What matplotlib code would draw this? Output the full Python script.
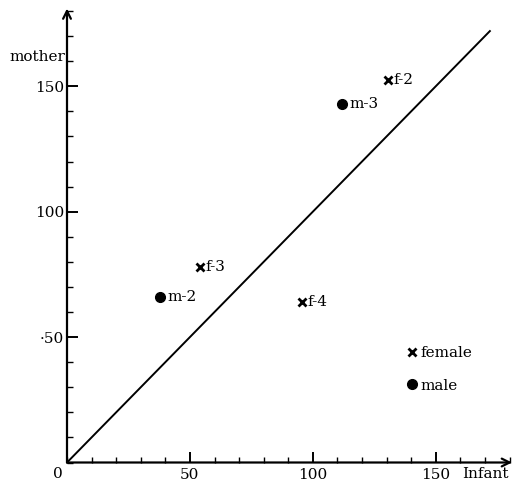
import matplotlib
matplotlib.use("Agg")
import matplotlib.pyplot as plt
from matplotlib.ticker import MultipleLocator

plt.rcParams['font.family'] = ['DejaVu Serif']

# data
female_names = ["f-2", "f-3", "f-4"]
female_infant = [130.5, 54, 95.5]
female_mother = [152.5, 78, 64]
male_names = ["m-3", "m-2"]
male_infant = [112, 38]
male_mother = [143, 66]
diag = [0, 172]
xticks = [50, 100, 150]
yticks = [50, 100, 150]
ytick_labels = ["·50", "100", "150"]

fig = plt.figure(figsize=(5.15, 4.88), dpi=100)
ax = fig.add_axes([67/515, 25.5/488, 445/515, 454/488])
ax.set_xlim(0, 181)
ax.set_ylim(0, 181)

for s in ax.spines.values():
    s.set_visible(False)

ax.annotate("", xy=(1.0, 0), xytext=(0, 0), xycoords='axes fraction',
            arrowprops=dict(arrowstyle='->', lw=1.6, color='black',
                            shrinkA=0, shrinkB=0, mutation_scale=14))
ax.annotate("", xy=(0, 1.0), xytext=(0, 0), xycoords='axes fraction',
            arrowprops=dict(arrowstyle='->', lw=1.6, color='black',
                            shrinkA=0, shrinkB=0, mutation_scale=14))

ax.plot(diag, diag, color='black', lw=1.4)

fem, = ax.plot(female_infant, female_mother, 'x', color='black', ms=5.5, mew=2,
               linestyle='none', label='female')
mal, = ax.plot(male_infant, male_mother, 'o', color='black', ms=7,
               linestyle='none', label='male')

fs = 11
for n, x, y in zip(female_names, female_infant, female_mother):
    ax.annotate(n, (x, y), xytext=(4, 0), textcoords='offset points',
                va='center', ha='left', fontsize=fs)
for n, x, y in zip(male_names, male_infant, male_mother):
    ax.annotate(n, (x, y), xytext=(5, 0), textcoords='offset points',
                va='center', ha='left', fontsize=fs)

ax.xaxis.set_major_locator(MultipleLocator(50))
ax.xaxis.set_minor_locator(MultipleLocator(10))
ax.yaxis.set_major_locator(MultipleLocator(50))
ax.yaxis.set_minor_locator(MultipleLocator(10))
ax.set_xticks(xticks)
ax.set_yticks(yticks)
ax.set_yticklabels(ytick_labels)
ax.tick_params(axis='both', which='major', direction='in', length=8, width=1.4,
               labelsize=fs, pad=4)
ax.tick_params(axis='both', which='minor', direction='in', length=4, width=1.0)
ax.tick_params(axis='y', which='major', pad=2)

ax.text(-0.01, -0.01, "0", transform=ax.transAxes, ha='right', va='top', fontsize=fs)
ax.text(-0.003, 161.5, "mother", transform=ax.get_yaxis_transform(), ha='right',
        va='center', fontsize=fs)
ax.text(170, -0.01, "Infant", transform=ax.get_xaxis_transform(), ha='center',
        va='top', fontsize=fs)

ax.legend(handles=[fem, mal], loc='center left', bbox_to_anchor=(0.766, 0.205),
          frameon=False, borderpad=0, borderaxespad=0, handlelength=0.6,
          handletextpad=0.25, labelspacing=1.2, fontsize=fs)

fig.savefig("out.png", dpi=100)
